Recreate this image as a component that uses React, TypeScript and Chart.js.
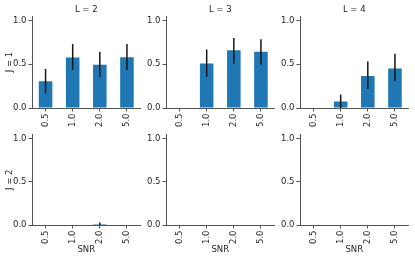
import React, { useEffect, useRef } from 'react';
import { Chart, registerables } from 'chart.js';

Chart.register(...registerables);

// ---------- data ----------
const snrLabels = ['0.5', '1.0', '2.0', '5.0'];
const colTitles = ['L = 2', 'L = 3', 'L = 4'];
const rowTitles = ['J = 1', 'J = 2'];
const xAxisTitle = 'SNR';

const meanJ1L2 = [0.305, 0.575, 0.495, 0.58];
const loJ1L2 = [0.168, 0.435, 0.355, 0.435];
const hiJ1L2 = [0.445, 0.73, 0.642, 0.73];

const meanJ1L3 = [0, 0.508, 0.66, 0.642];
const loJ1L3 = [0, 0.355, 0.508, 0.497];
const hiJ1L3 = [0, 0.668, 0.8, 0.786];

const meanJ1L4 = [0, 0.073, 0.366, 0.451];
const loJ1L4 = [0, 0.0, 0.217, 0.305];
const hiJ1L4 = [0, 0.153, 0.531, 0.618];

const meanJ2L2 = [0, 0, 0.012, 0];
const loJ2L2 = [0, 0, 0, 0];
const hiJ2L2 = [0, 0, 0.03, 0];

const meanJ2L3 = [0, 0, 0, 0];
const loJ2L3 = [0, 0, 0, 0];
const hiJ2L3 = [0, 0, 0, 0];

const meanJ2L4 = [0, 0, 0, 0];
const loJ2L4 = [0, 0, 0, 0];
const hiJ2L4 = [0, 0, 0, 0];

const panels = [
  { row: 0, col: 0, mean: meanJ1L2, lo: loJ1L2, hi: hiJ1L2 },
  { row: 0, col: 1, mean: meanJ1L3, lo: loJ1L3, hi: hiJ1L3 },
  { row: 0, col: 2, mean: meanJ1L4, lo: loJ1L4, hi: hiJ1L4 },
  { row: 1, col: 0, mean: meanJ2L2, lo: loJ2L2, hi: hiJ2L2 },
  { row: 1, col: 1, mean: meanJ2L3, lo: loJ2L3, hi: hiJ2L3 },
  { row: 1, col: 2, mean: meanJ2L4, lo: loJ2L4, hi: hiJ2L4 },
];

// ---------- layout ----------
const W = 415;
const H = 258;
const colLeft = [32, 166, 300];
const panelWidth = 108.5;
const rowTop = [16, 134.5];
const rowBottom = [108, 225];
const Y_AXIS_W = 30;
const X_AXIS_H = 30;

const FONT = 'DejaVu Sans';
const TEXT = '#262626';
const SPINE = '#555555';
const BAR = '#1f77b4';

function Panel({ p }: { p: any }) {
  const ref = useRef<HTMLCanvasElement | null>(null);
  useEffect(() => {
    const canvas = ref.current;
    if (!canvas) return;
    const L = colLeft[p.col];
    const R = L + panelWidth;
    const T = rowTop[p.row];
    const B = rowBottom[p.row];
    const showTitle = p.row === 0;
    const showYTitle = p.col === 0;
    const showXTitle = p.row === 1;

    const errPlugin = {
      id: 'errbars',
      afterDatasetsDraw(chart: any) {
        const meta = chart.getDatasetMeta(0);
        const ys = chart.scales.y;
        const ctx = chart.ctx;
        ctx.save();
        ctx.strokeStyle = '#151515';
        ctx.lineWidth = 1.5;
        meta.data.forEach((bar: any, i: number) => {
          if (p.hi[i] > p.lo[i]) {
            ctx.beginPath();
            ctx.moveTo(bar.x, ys.getPixelForValue(p.lo[i]));
            ctx.lineTo(bar.x, ys.getPixelForValue(p.hi[i]));
            ctx.stroke();
          }
        });
        ctx.restore();
      },
    };
    const titlePlugin = {
      id: 'panelTitle',
      afterDraw(chart: any) {
        if (!showTitle) return;
        const ca = chart.chartArea;
        const ctx = chart.ctx;
        ctx.save();
        ctx.font = `8.5px "${FONT}"`;
        ctx.fillStyle = TEXT;
        ctx.textAlign = 'center';
        ctx.textBaseline = 'middle';
        ctx.fillText(colTitles[p.col], (ca.left + ca.right) / 2, ca.top - 6);
        ctx.restore();
      },
    };

    const chart = new Chart(canvas, {
      type: 'bar',
      data: {
        labels: snrLabels,
        datasets: [
          {
            data: p.mean,
            backgroundColor: BAR,
            borderWidth: 0,
            barPercentage: 0.5,
            categoryPercentage: 1,
          },
        ],
      },
      options: {
        animation: false,
        responsive: false,
        devicePixelRatio: 1,
        layout: {
          padding: {
            left: L - Y_AXIS_W,
            right: W - R,
            top: T,
            bottom: H - B - X_AXIS_H,
          },
        },
        plugins: {
          legend: { display: false },
          tooltip: { enabled: false },
          title: { display: false },
        },
        scales: {
          x: {
            type: 'category',
            offset: true,
            grid: {
              display: true,
              drawOnChartArea: false,
              drawTicks: true,
              offset: false,
              tickLength: 3.5,
              tickColor: SPINE,
              tickWidth: 1,
            },
            border: { display: true, color: SPINE, width: 1 },
            ticks: {
              minRotation: 90,
              maxRotation: 90,
              autoSkip: false,
              padding: 2,
              color: TEXT,
              font: { family: FONT, size: 8.5 },
            },
            title: {
              display: showXTitle,
              text: xAxisTitle,
              color: TEXT,
              font: { family: FONT, size: 8.5 },
              padding: { top: 0, bottom: 0 },
            },
            afterFit(scale: any) {
              scale.height = X_AXIS_H;
            },
          },
          y: {
            type: 'linear',
            min: 0,
            max: 1.05,
            grid: {
              display: true,
              drawOnChartArea: false,
              drawTicks: true,
              tickLength: 3.5,
              tickColor: SPINE,
              tickWidth: 1,
            },
            border: { display: true, color: SPINE, width: 1 },
            ticks: {
              stepSize: 0.5,
              includeBounds: false,
              padding: 2,
              color: TEXT,
              font: { family: FONT, size: 8.5 },
              callback: (v: any) => Number(v).toFixed(1),
            },
            title: {
              display: showYTitle,
              text: rowTitles[p.row],
              color: TEXT,
              font: { family: FONT, size: 8.5 },
              padding: { top: 3, bottom: 0 },
            },
            afterFit(scale: any) {
              scale.width = Y_AXIS_W;
            },
          },
        },
      },
      plugins: [errPlugin, titlePlugin],
    } as any);
    return () => chart.destroy();
  }, [p]);
  return (
    <canvas
      ref={ref}
      width={W}
      height={H}
      style={{ position: 'absolute', left: 0, top: 0, width: W, height: H }}
    />
  );
}

export default function App() {
  return (
    <div
      style={{
        position: 'absolute',
        left: 0,
        top: 0,
        width: W,
        height: H,
        background: '#ffffff',
        overflow: 'hidden',
      }}
    >
      {panels.map((p, i) => (
        <Panel key={i} p={p} />
      ))}
    </div>
  );
}
